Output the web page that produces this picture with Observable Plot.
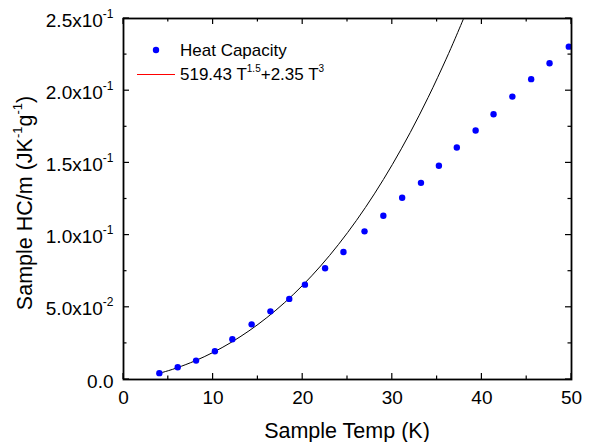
<!DOCTYPE html>
<html><head><meta charset="utf-8">
<script src="https://cdn.jsdelivr.net/npm/d3@7"></script>
<script src="https://cdn.jsdelivr.net/npm/@observablehq/plot@0.6"></script>
<style>body{margin:0;background:#fff}</style>
</head><body><div id="chart"></div>
<script>
const temps = [4.0, 6.05, 8.1, 10.2, 12.15, 14.3, 16.4, 18.5, 20.25, 22.5, 24.55, 26.9, 29.0, 31.1, 33.2, 35.2, 37.2, 39.3, 41.3, 43.4, 45.5, 47.55, 49.7];
const heatCap = [0.0044, 0.0085, 0.0131, 0.0196, 0.0279, 0.0382, 0.0472, 0.0558, 0.0657, 0.0770, 0.0883, 0.1026, 0.1134, 0.1259, 0.1362, 0.1480, 0.1607, 0.1724, 0.1837, 0.1959, 0.2080, 0.2190, 0.2305];
const fitTemps = [4, 5, 6, 8, 10, 12, 14, 16, 18, 20, 22, 24, 26, 28, 30, 32, 34, 36, 37, 38];
const fitValues = [0.00431, 0.00610, 0.00814, 0.01296, 0.01878, 0.02565, 0.03366, 0.04287, 0.05337, 0.06526, 0.07862, 0.09356, 0.11017, 0.12855, 0.14880, 0.17103, 0.19534, 0.22184, 0.23594, 0.25063];
const xTicks = [0, 10, 20, 30, 40, 50];
const xMinor = [5, 15, 25, 35, 45];
const yTicks = [0, 0.05, 0.10, 0.15, 0.20, 0.25];
const yTickLabels = ["0.0", "5.0x10^-2", "1.0x10^-1", "1.5x10^-1", "2.0x10^-1", "2.5x10^-1"];
const yMinor = [0.025, 0.075, 0.125, 0.175, 0.225];
const seriesLabel = "Heat Capacity";
const fitLabel = ["519.43 T", "1.5", "+2.35 T", "3"];
const xTitle = "Sample Temp (K)";
const yTitle = ["Sample HC/m (JK", "-1", "g", "-1", ")"];

const points = temps.map((t, i) => ({t, c: heatCap[i]}));
const fit = fitTemps.map((t, i) => ({t, v: fitValues[i]}));
const font = "'Liberation Sans', Arial, Helvetica, sans-serif";

const W = 590, H = 442, ML = 123, MR = 19, MT = 18, MB = 63;
const plot = Plot.plot({
  width: W, height: H,
  marginLeft: ML, marginRight: MR, marginTop: MT, marginBottom: MB,
  style: {fontFamily: font, background: "white", color: "black", overflow: "visible"},
  x: {domain: [0, 50]},
  y: {domain: [0, 0.25]},
  marks: [
    Plot.line(fit, {x: "t", y: "v", stroke: "black", strokeWidth: 1, clip: true, curve: "catmull-rom"}),
    Plot.dot(points, {x: "t", y: "c", r: 3.2, fill: "#0000ff", stroke: "none"}),
    Plot.axisX(xTicks, {anchor: "bottom", tickSize: 0, tickPadding: 11, fontSize: 19, tickFormat: d => String(d), label: null}),
    Plot.axisY(yTicks, {anchor: "left", tickSize: 0, tickPadding: 10, fontSize: 19, dy: 2, tickFormat: d => yTickLabels[yTicks.indexOf(d)], label: null}),
    Plot.frame({stroke: "black", strokeWidth: 1.8})
  ]
});
document.getElementById("chart").appendChild(plot);

const svg = d3.select(plot);
const sx = plot.scale("x"), sy = plot.scale("y");
const x0 = ML, x1 = W - MR, y0 = H - MB, y1 = MT;
// inward mirrored ticks from the plot's scales
const tg = svg.append("g").attr("stroke", "black").attr("stroke-width", 1.2);
function xt(vals, len) {
  vals.forEach(v => {
    const px = sx.apply(v);
    tg.append("line").attr("x1", px).attr("x2", px).attr("y1", y0).attr("y2", y0 - len);
    tg.append("line").attr("x1", px).attr("x2", px).attr("y1", y1).attr("y2", y1 + len);
  });
}
function yt(vals, len) {
  vals.forEach(v => {
    const py = sy.apply(v);
    tg.append("line").attr("y1", py).attr("y2", py).attr("x1", x0).attr("x2", x0 + len);
    tg.append("line").attr("y1", py).attr("y2", py).attr("x1", x1).attr("x2", x1 - len);
  });
}
xt(xTicks, 6); xt(xMinor, 3.5); yt(yTicks, 6); yt(yMinor, 3.5);

// superscripts in y tick labels
svg.selectAll('g[aria-label="y-axis tick label"] text').each(function () {
  const s = this.textContent;
  if (s.includes("^")) {
    const [base, sup] = s.split("^");
    const el = d3.select(this);
    el.text(base);
    el.append("tspan").attr("dy", -9).attr("font-size", 12).text(sup);
  }
});
// axis titles
svg.append("text")
  .attr("x", 347).attr("y", 438)
  .attr("text-anchor", "middle").attr("font-size", 21.5).attr("font-family", font)
  .text(xTitle);
const ytt = svg.append("text")
  .attr("transform", "translate(32,203) rotate(-90)")
  .attr("text-anchor", "middle").attr("font-size", 21.5).attr("font-family", font);
ytt.append("tspan").text(yTitle[0]);
ytt.append("tspan").attr("dy", -10).attr("font-size", 13).text(yTitle[1]);
ytt.append("tspan").attr("dy", 10).text(yTitle[2]);
ytt.append("tspan").attr("dy", -10).attr("font-size", 13).text(yTitle[3]);
ytt.append("tspan").attr("dy", 10).text(yTitle[4]);
// legend
const lg = svg.append("g").attr("font-family", font).attr("font-size", 17).attr("text-anchor", "start");
lg.append("circle").attr("cx", 156).attr("cy", 50).attr("r", 3.2).attr("fill", "#0000ff");
lg.append("text").attr("x", 180).attr("y", 56).text(seriesLabel);
lg.append("line").attr("x1", 137).attr("x2", 175).attr("y1", 74.5).attr("y2", 74.5).attr("stroke", "#ff0000").attr("stroke-width", 1);
const ft = lg.append("text").attr("x", 180).attr("y", 80);
ft.append("tspan").text(fitLabel[0]);
ft.append("tspan").attr("dy", -8).attr("font-size", 10).text(fitLabel[1]);
ft.append("tspan").attr("dy", 8).text(fitLabel[2]);
ft.append("tspan").attr("dy", -8).attr("font-size", 10).text(fitLabel[3]);
</script>
</body></html>
